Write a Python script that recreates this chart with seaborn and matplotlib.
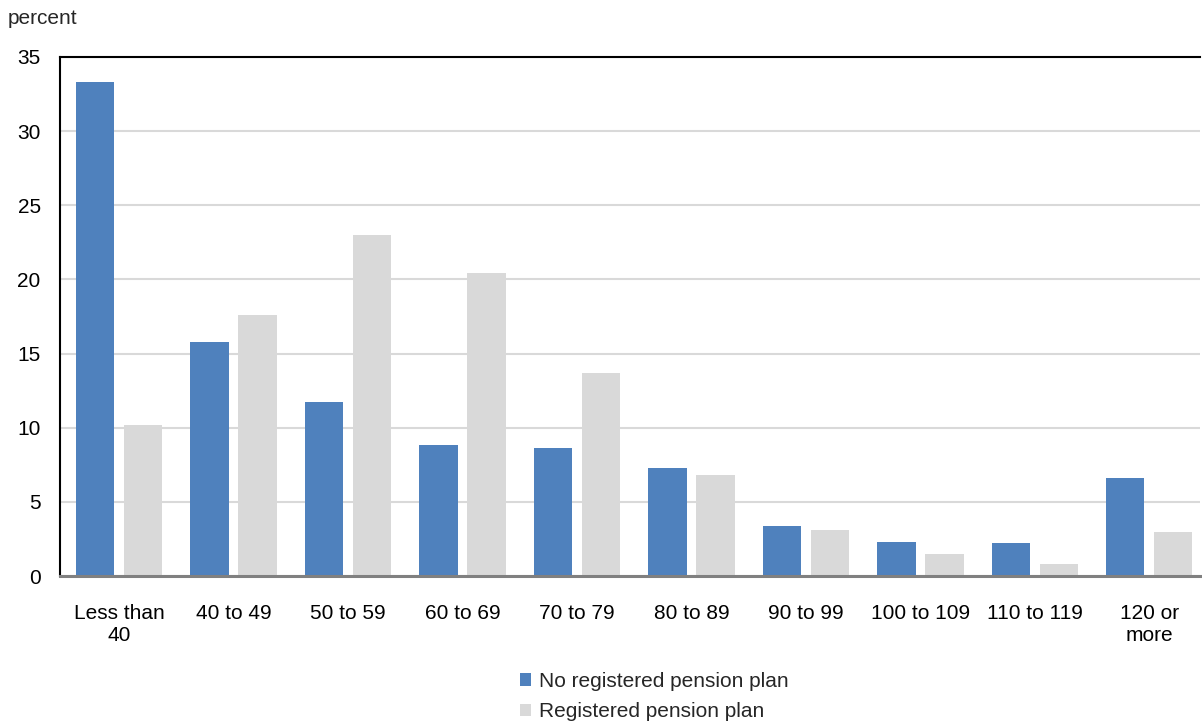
import matplotlib
matplotlib.use("Agg")
import matplotlib.pyplot as plt
import seaborn as sns
import pandas as pd
from matplotlib.patches import Patch

categories = ["Less than\n40", "40 to 49", "50 to 59", "60 to 69", "70 to 79",
              "80 to 89", "90 to 99", "100 to 109", "110 to 119", "120 or\nmore"]
no_rpp = [33.3, 15.8, 11.7, 8.8, 8.6, 7.3, 3.4, 2.3, 2.2, 6.6]
rpp = [10.2, 17.6, 23.0, 20.4, 13.7, 6.8, 3.1, 1.5, 0.8, 3.0]
series_names = ["No registered pension plan", "Registered pension plan"]
colors = ["#4f81bd", "#d9d9d9"]

df = pd.DataFrame({
    "category": categories * 2,
    "value": no_rpp + rpp,
    "series": [series_names[0]] * len(categories) + [series_names[1]] * len(categories),
})

sns.set_style("white")
plt.rcParams["font.family"] = ["Liberation Sans", "DejaVu Sans"]
FS = 15

fig = plt.figure(figsize=(12.02, 7.26), dpi=100)
ax = fig.add_axes([0.05, 0.2066, 0.948, 0.715])

sns.barplot(data=df, x="category", y="value", hue="series", palette=colors,
            width=0.84, gap=0.2, order=categories, hue_order=series_names,
            ax=ax, legend=False, saturation=1, edgecolor="none")

ax.set_ylim(0, 35)
ax.set_xlim(-0.516, 9.44)
ax.set_yticks(range(0, 36, 5))
ax.yaxis.grid(True, color="#d9d9d9", linewidth=1.5)
ax.set_axisbelow(True)
ax.set_xlabel("")
ax.set_ylabel("")
ax.tick_params(axis="both", length=0, labelsize=FS, colors="black")
ax.tick_params(axis="x", pad=20)
ax.tick_params(axis="y", pad=14)
for lbl in ax.get_xticklabels():
    lbl.set_linespacing(1.2)

ax.spines["right"].set_visible(False)
ax.spines["left"].set_color("black")
ax.spines["left"].set_linewidth(1.5)
ax.spines["top"].set_color("black")
ax.spines["top"].set_linewidth(1.5)
ax.spines["bottom"].set_color("#808080")
ax.spines["bottom"].set_linewidth(2.2)

fig.text(8 / 1202, 1 - 18 / 726, "percent", fontsize=FS, va="center", ha="left")

handles = [Patch(facecolor=c, edgecolor="none") for c in colors]
fig.legend(handles, series_names, loc="upper left", bbox_to_anchor=(520 / 1202, 1 - 672 / 726),
           frameon=False, fontsize=FS, handlelength=0.55, handleheight=0.55,
           handletextpad=0.35, labelspacing=0.55, borderaxespad=0, borderpad=0)

fig.savefig("out.png", dpi=100)
